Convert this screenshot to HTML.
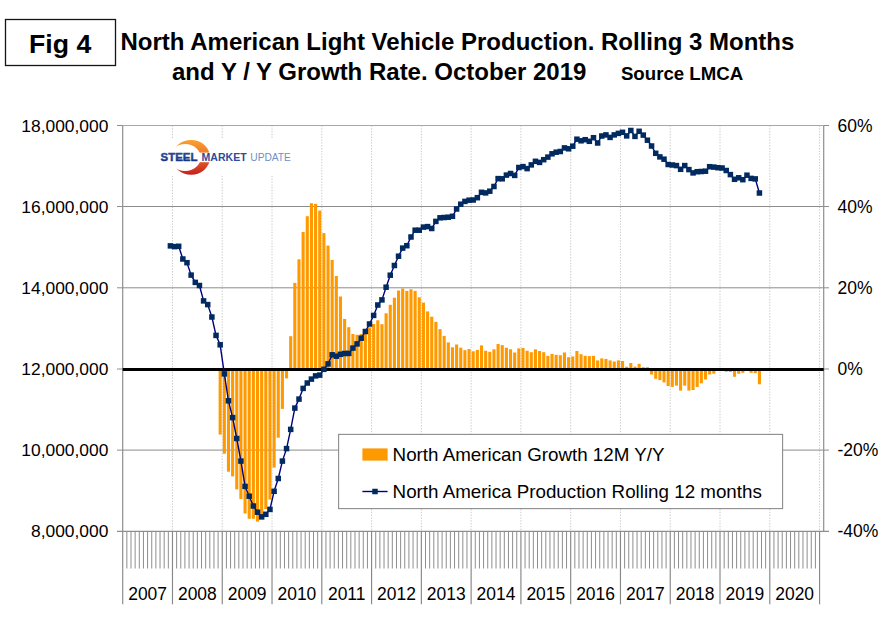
<!DOCTYPE html>
<html><head><meta charset="utf-8"><title>Fig 4</title>
<style>html,body{margin:0;padding:0;background:#fff}svg{display:block}text{font-family:"Liberation Sans",sans-serif}</style></head><body>
<svg width="886" height="622" viewBox="0 0 886 622">
<defs><linearGradient id="cg" x1="0" y1="0" x2="0" y2="1"><stop offset="0" stop-color="#f9a52e"/><stop offset="0.45" stop-color="#f0702a"/><stop offset="1" stop-color="#c01a1c"/></linearGradient>
<linearGradient id="tg" x1="0" y1="0" x2="0" y2="1"><stop offset="0" stop-color="#2a56aa"/><stop offset="1" stop-color="#122a74"/></linearGradient>
<mask id="cres" maskUnits="userSpaceOnUse" x="170" y="138" width="44" height="40"><ellipse cx="191.1" cy="157.4" rx="18.9" ry="17.4" fill="#fff"/><ellipse cx="185.1" cy="157.5" rx="15.6" ry="13.4" fill="#000"/><rect x="170" y="152.6" width="44" height="9.6" fill="#000"/></mask></defs>
<rect width="886" height="622" fill="#fff"/>
<rect x="5.5" y="19.5" width="110" height="46" fill="#fff" stroke="#151515" stroke-width="1.3"/>
<text x="29" y="52.7" font-size="26.67" font-weight="bold" fill="#000">Fig 4</text>
<text x="120.5" y="50.3" font-size="24" font-weight="bold" fill="#000">North American Light Vehicle Production. Rolling 3 Months</text>
<text x="172" y="80.4" font-size="24" font-weight="bold" fill="#000">and Y / Y Growth Rate. October 2019</text>
<text x="620.9" y="80.4" font-size="18.67" font-weight="bold" fill="#000">Source LMCA</text>
<line x1="172.48" y1="125.5" x2="172.48" y2="531.3" stroke="#c2c2c2" stroke-width="0.9" stroke-dasharray="1.3 1.5"/>
<line x1="222.25" y1="125.5" x2="222.25" y2="531.3" stroke="#c2c2c2" stroke-width="0.9" stroke-dasharray="1.3 1.5"/>
<line x1="272.03" y1="125.5" x2="272.03" y2="531.3" stroke="#c2c2c2" stroke-width="0.9" stroke-dasharray="1.3 1.5"/>
<line x1="321.80" y1="125.5" x2="321.80" y2="531.3" stroke="#c2c2c2" stroke-width="0.9" stroke-dasharray="1.3 1.5"/>
<line x1="371.58" y1="125.5" x2="371.58" y2="531.3" stroke="#c2c2c2" stroke-width="0.9" stroke-dasharray="1.3 1.5"/>
<line x1="421.36" y1="125.5" x2="421.36" y2="531.3" stroke="#c2c2c2" stroke-width="0.9" stroke-dasharray="1.3 1.5"/>
<line x1="471.13" y1="125.5" x2="471.13" y2="531.3" stroke="#c2c2c2" stroke-width="0.9" stroke-dasharray="1.3 1.5"/>
<line x1="520.91" y1="125.5" x2="520.91" y2="531.3" stroke="#c2c2c2" stroke-width="0.9" stroke-dasharray="1.3 1.5"/>
<line x1="570.68" y1="125.5" x2="570.68" y2="531.3" stroke="#c2c2c2" stroke-width="0.9" stroke-dasharray="1.3 1.5"/>
<line x1="620.46" y1="125.5" x2="620.46" y2="531.3" stroke="#c2c2c2" stroke-width="0.9" stroke-dasharray="1.3 1.5"/>
<line x1="670.24" y1="125.5" x2="670.24" y2="531.3" stroke="#c2c2c2" stroke-width="0.9" stroke-dasharray="1.3 1.5"/>
<line x1="720.01" y1="125.5" x2="720.01" y2="531.3" stroke="#c2c2c2" stroke-width="0.9" stroke-dasharray="1.3 1.5"/>
<line x1="769.79" y1="125.5" x2="769.79" y2="531.3" stroke="#c2c2c2" stroke-width="0.9" stroke-dasharray="1.3 1.5"/>
<line x1="819.56" y1="125.5" x2="819.56" y2="531.3" stroke="#c2c2c2" stroke-width="0.9" stroke-dasharray="1.3 1.5"/>
<line x1="122.7" y1="125.5" x2="823.7" y2="125.5" stroke="#a8a8a8" stroke-width="1"/>
<line x1="122.7" y1="206.5" x2="823.7" y2="206.5" stroke="#8c8c8c" stroke-width="1"/>
<line x1="122.7" y1="287.8" x2="823.7" y2="287.8" stroke="#8c8c8c" stroke-width="1"/>
<line x1="122.7" y1="369.0" x2="823.7" y2="369.0" stroke="#8c8c8c" stroke-width="1"/>
<line x1="122.7" y1="450.1" x2="823.7" y2="450.1" stroke="#8c8c8c" stroke-width="1"/>
<rect x="218.63" y="369.60" width="3.1" height="64.90" fill="#ff9900"/>
<rect x="222.78" y="369.60" width="3.1" height="84.10" fill="#ff9900"/>
<rect x="226.92" y="369.60" width="3.1" height="102.10" fill="#ff9900"/>
<rect x="231.07" y="369.60" width="3.1" height="106.80" fill="#ff9900"/>
<rect x="235.22" y="369.60" width="3.1" height="119.80" fill="#ff9900"/>
<rect x="239.37" y="369.60" width="3.1" height="129.40" fill="#ff9900"/>
<rect x="243.52" y="369.60" width="3.1" height="143.90" fill="#ff9900"/>
<rect x="247.66" y="369.60" width="3.1" height="149.20" fill="#ff9900"/>
<rect x="251.81" y="369.60" width="3.1" height="149.20" fill="#ff9900"/>
<rect x="255.96" y="369.60" width="3.1" height="152.00" fill="#ff9900"/>
<rect x="260.11" y="369.60" width="3.1" height="148.60" fill="#ff9900"/>
<rect x="264.26" y="369.60" width="3.1" height="139.40" fill="#ff9900"/>
<rect x="268.40" y="369.60" width="3.1" height="130.00" fill="#ff9900"/>
<rect x="272.55" y="369.60" width="3.1" height="98.00" fill="#ff9900"/>
<rect x="276.70" y="369.60" width="3.1" height="68.10" fill="#ff9900"/>
<rect x="280.85" y="369.60" width="3.1" height="39.30" fill="#ff9900"/>
<rect x="285.00" y="369.60" width="3.1" height="8.80" fill="#ff9900"/>
<rect x="289.14" y="336.20" width="3.1" height="33.40" fill="#ff9900"/>
<rect x="293.29" y="282.90" width="3.1" height="86.70" fill="#ff9900"/>
<rect x="297.44" y="259.30" width="3.1" height="110.30" fill="#ff9900"/>
<rect x="301.59" y="232.00" width="3.1" height="137.60" fill="#ff9900"/>
<rect x="305.74" y="216.20" width="3.1" height="153.40" fill="#ff9900"/>
<rect x="309.88" y="203.20" width="3.1" height="166.40" fill="#ff9900"/>
<rect x="314.03" y="203.80" width="3.1" height="165.80" fill="#ff9900"/>
<rect x="318.18" y="210.60" width="3.1" height="159.00" fill="#ff9900"/>
<rect x="322.33" y="233.10" width="3.1" height="136.50" fill="#ff9900"/>
<rect x="326.48" y="245.60" width="3.1" height="124.00" fill="#ff9900"/>
<rect x="330.62" y="259.90" width="3.1" height="109.70" fill="#ff9900"/>
<rect x="334.77" y="276.00" width="3.1" height="93.60" fill="#ff9900"/>
<rect x="338.92" y="296.50" width="3.1" height="73.10" fill="#ff9900"/>
<rect x="343.07" y="318.90" width="3.1" height="50.70" fill="#ff9900"/>
<rect x="347.22" y="327.20" width="3.1" height="42.40" fill="#ff9900"/>
<rect x="351.36" y="334.00" width="3.1" height="35.60" fill="#ff9900"/>
<rect x="355.51" y="334.80" width="3.1" height="34.80" fill="#ff9900"/>
<rect x="359.66" y="334.00" width="3.1" height="35.60" fill="#ff9900"/>
<rect x="363.81" y="330.50" width="3.1" height="39.10" fill="#ff9900"/>
<rect x="367.96" y="327.40" width="3.1" height="42.20" fill="#ff9900"/>
<rect x="372.10" y="324.00" width="3.1" height="45.60" fill="#ff9900"/>
<rect x="376.25" y="320.30" width="3.1" height="49.30" fill="#ff9900"/>
<rect x="380.40" y="324.20" width="3.1" height="45.40" fill="#ff9900"/>
<rect x="384.55" y="313.30" width="3.1" height="56.30" fill="#ff9900"/>
<rect x="388.70" y="304.80" width="3.1" height="64.80" fill="#ff9900"/>
<rect x="392.84" y="297.70" width="3.1" height="71.90" fill="#ff9900"/>
<rect x="396.99" y="290.50" width="3.1" height="79.10" fill="#ff9900"/>
<rect x="401.14" y="288.50" width="3.1" height="81.10" fill="#ff9900"/>
<rect x="405.29" y="290.90" width="3.1" height="78.70" fill="#ff9900"/>
<rect x="409.44" y="289.30" width="3.1" height="80.30" fill="#ff9900"/>
<rect x="413.58" y="290.90" width="3.1" height="78.70" fill="#ff9900"/>
<rect x="417.73" y="297.30" width="3.1" height="72.30" fill="#ff9900"/>
<rect x="421.88" y="302.60" width="3.1" height="67.00" fill="#ff9900"/>
<rect x="426.03" y="311.40" width="3.1" height="58.20" fill="#ff9900"/>
<rect x="430.18" y="316.70" width="3.1" height="52.90" fill="#ff9900"/>
<rect x="434.32" y="321.80" width="3.1" height="47.80" fill="#ff9900"/>
<rect x="438.47" y="329.10" width="3.1" height="40.50" fill="#ff9900"/>
<rect x="442.62" y="335.90" width="3.1" height="33.70" fill="#ff9900"/>
<rect x="446.77" y="342.40" width="3.1" height="27.20" fill="#ff9900"/>
<rect x="450.92" y="347.30" width="3.1" height="22.30" fill="#ff9900"/>
<rect x="455.06" y="344.50" width="3.1" height="25.10" fill="#ff9900"/>
<rect x="459.21" y="347.70" width="3.1" height="21.90" fill="#ff9900"/>
<rect x="463.36" y="350.20" width="3.1" height="19.40" fill="#ff9900"/>
<rect x="467.51" y="349.00" width="3.1" height="20.60" fill="#ff9900"/>
<rect x="471.66" y="351.30" width="3.1" height="18.30" fill="#ff9900"/>
<rect x="475.80" y="349.90" width="3.1" height="19.70" fill="#ff9900"/>
<rect x="479.95" y="345.40" width="3.1" height="24.20" fill="#ff9900"/>
<rect x="484.10" y="350.80" width="3.1" height="18.80" fill="#ff9900"/>
<rect x="488.25" y="351.80" width="3.1" height="17.80" fill="#ff9900"/>
<rect x="492.40" y="349.30" width="3.1" height="20.30" fill="#ff9900"/>
<rect x="496.54" y="344.00" width="3.1" height="25.60" fill="#ff9900"/>
<rect x="500.69" y="345.10" width="3.1" height="24.50" fill="#ff9900"/>
<rect x="504.84" y="347.70" width="3.1" height="21.90" fill="#ff9900"/>
<rect x="508.99" y="349.30" width="3.1" height="20.30" fill="#ff9900"/>
<rect x="513.14" y="352.50" width="3.1" height="17.10" fill="#ff9900"/>
<rect x="517.28" y="348.40" width="3.1" height="21.20" fill="#ff9900"/>
<rect x="521.43" y="348.00" width="3.1" height="21.60" fill="#ff9900"/>
<rect x="525.58" y="350.80" width="3.1" height="18.80" fill="#ff9900"/>
<rect x="529.73" y="352.20" width="3.1" height="17.40" fill="#ff9900"/>
<rect x="533.88" y="349.30" width="3.1" height="20.30" fill="#ff9900"/>
<rect x="538.02" y="351.00" width="3.1" height="18.60" fill="#ff9900"/>
<rect x="542.17" y="352.20" width="3.1" height="17.40" fill="#ff9900"/>
<rect x="546.32" y="355.90" width="3.1" height="13.70" fill="#ff9900"/>
<rect x="550.47" y="353.90" width="3.1" height="15.70" fill="#ff9900"/>
<rect x="554.62" y="354.80" width="3.1" height="14.80" fill="#ff9900"/>
<rect x="558.76" y="355.20" width="3.1" height="14.40" fill="#ff9900"/>
<rect x="562.91" y="352.50" width="3.1" height="17.10" fill="#ff9900"/>
<rect x="567.06" y="357.20" width="3.1" height="12.40" fill="#ff9900"/>
<rect x="571.21" y="356.50" width="3.1" height="13.10" fill="#ff9900"/>
<rect x="575.36" y="351.00" width="3.1" height="18.60" fill="#ff9900"/>
<rect x="579.50" y="354.20" width="3.1" height="15.40" fill="#ff9900"/>
<rect x="583.65" y="355.80" width="3.1" height="13.80" fill="#ff9900"/>
<rect x="587.80" y="356.10" width="3.1" height="13.50" fill="#ff9900"/>
<rect x="591.95" y="355.80" width="3.1" height="13.80" fill="#ff9900"/>
<rect x="596.10" y="360.40" width="3.1" height="9.20" fill="#ff9900"/>
<rect x="600.24" y="358.40" width="3.1" height="11.20" fill="#ff9900"/>
<rect x="604.39" y="358.90" width="3.1" height="10.70" fill="#ff9900"/>
<rect x="608.54" y="360.40" width="3.1" height="9.20" fill="#ff9900"/>
<rect x="612.69" y="361.50" width="3.1" height="8.10" fill="#ff9900"/>
<rect x="616.84" y="360.40" width="3.1" height="9.20" fill="#ff9900"/>
<rect x="620.98" y="361.00" width="3.1" height="8.60" fill="#ff9900"/>
<rect x="625.13" y="366.70" width="3.1" height="2.90" fill="#ff9900"/>
<rect x="629.28" y="363.00" width="3.1" height="6.60" fill="#ff9900"/>
<rect x="633.43" y="366.60" width="3.1" height="3.00" fill="#ff9900"/>
<rect x="637.58" y="363.80" width="3.1" height="5.80" fill="#ff9900"/>
<rect x="641.72" y="367.20" width="3.1" height="2.40" fill="#ff9900"/>
<rect x="645.87" y="367.20" width="3.1" height="2.40" fill="#ff9900"/>
<rect x="650.02" y="369.60" width="3.1" height="4.90" fill="#ff9900"/>
<rect x="654.17" y="369.60" width="3.1" height="9.20" fill="#ff9900"/>
<rect x="658.32" y="369.60" width="3.1" height="10.50" fill="#ff9900"/>
<rect x="662.46" y="369.60" width="3.1" height="12.80" fill="#ff9900"/>
<rect x="666.61" y="369.60" width="3.1" height="16.40" fill="#ff9900"/>
<rect x="670.76" y="369.60" width="3.1" height="17.30" fill="#ff9900"/>
<rect x="674.91" y="369.60" width="3.1" height="16.00" fill="#ff9900"/>
<rect x="679.06" y="369.60" width="3.1" height="21.00" fill="#ff9900"/>
<rect x="683.20" y="369.60" width="3.1" height="16.00" fill="#ff9900"/>
<rect x="687.35" y="369.60" width="3.1" height="21.00" fill="#ff9900"/>
<rect x="691.50" y="369.60" width="3.1" height="20.40" fill="#ff9900"/>
<rect x="695.65" y="369.60" width="3.1" height="17.30" fill="#ff9900"/>
<rect x="699.80" y="369.60" width="3.1" height="13.70" fill="#ff9900"/>
<rect x="703.94" y="369.60" width="3.1" height="9.80" fill="#ff9900"/>
<rect x="708.09" y="369.60" width="3.1" height="4.90" fill="#ff9900"/>
<rect x="712.24" y="369.60" width="3.1" height="4.10" fill="#ff9900"/>
<rect x="724.68" y="369.60" width="3.1" height="2.10" fill="#ff9900"/>
<rect x="728.83" y="369.60" width="3.1" height="2.40" fill="#ff9900"/>
<rect x="732.98" y="369.60" width="3.1" height="7.20" fill="#ff9900"/>
<rect x="737.13" y="369.60" width="3.1" height="4.10" fill="#ff9900"/>
<rect x="741.28" y="369.60" width="3.1" height="3.20" fill="#ff9900"/>
<rect x="749.57" y="369.60" width="3.1" height="3.20" fill="#ff9900"/>
<rect x="753.72" y="369.60" width="3.1" height="3.50" fill="#ff9900"/>
<rect x="757.87" y="369.60" width="3.1" height="14.70" fill="#ff9900"/>
<line x1="122.7" y1="125.5" x2="122.7" y2="604.3" stroke="#8e8e8e" stroke-width="1.2"/>
<line x1="823.7" y1="125.5" x2="823.7" y2="531.3" stroke="#8e8e8e" stroke-width="1.2"/>
<line x1="117" y1="531.3" x2="829" y2="531.3" stroke="#8e8e8e" stroke-width="1.2"/>
<line x1="117" y1="125.5" x2="122.7" y2="125.5" stroke="#8e8e8e" stroke-width="1"/>
<line x1="823.7" y1="125.5" x2="829" y2="125.5" stroke="#8e8e8e" stroke-width="1"/>
<line x1="117" y1="206.5" x2="122.7" y2="206.5" stroke="#8e8e8e" stroke-width="1"/>
<line x1="823.7" y1="206.5" x2="829" y2="206.5" stroke="#8e8e8e" stroke-width="1"/>
<line x1="117" y1="287.8" x2="122.7" y2="287.8" stroke="#8e8e8e" stroke-width="1"/>
<line x1="823.7" y1="287.8" x2="829" y2="287.8" stroke="#8e8e8e" stroke-width="1"/>
<line x1="117" y1="369.0" x2="122.7" y2="369.0" stroke="#8e8e8e" stroke-width="1"/>
<line x1="823.7" y1="369.0" x2="829" y2="369.0" stroke="#8e8e8e" stroke-width="1"/>
<line x1="117" y1="450.1" x2="122.7" y2="450.1" stroke="#8e8e8e" stroke-width="1"/>
<line x1="823.7" y1="450.1" x2="829" y2="450.1" stroke="#8e8e8e" stroke-width="1"/>
<line x1="126.85" y1="531.3" x2="126.85" y2="568.5" stroke="#8e8e8e" stroke-width="1"/>
<line x1="131.00" y1="531.3" x2="131.00" y2="568.5" stroke="#8e8e8e" stroke-width="1"/>
<line x1="135.14" y1="531.3" x2="135.14" y2="568.5" stroke="#8e8e8e" stroke-width="1"/>
<line x1="139.29" y1="531.3" x2="139.29" y2="568.5" stroke="#8e8e8e" stroke-width="1"/>
<line x1="143.44" y1="531.3" x2="143.44" y2="568.5" stroke="#8e8e8e" stroke-width="1"/>
<line x1="147.59" y1="531.3" x2="147.59" y2="568.5" stroke="#8e8e8e" stroke-width="1"/>
<line x1="151.74" y1="531.3" x2="151.74" y2="568.5" stroke="#8e8e8e" stroke-width="1"/>
<line x1="155.88" y1="531.3" x2="155.88" y2="568.5" stroke="#8e8e8e" stroke-width="1"/>
<line x1="160.03" y1="531.3" x2="160.03" y2="568.5" stroke="#8e8e8e" stroke-width="1"/>
<line x1="164.18" y1="531.3" x2="164.18" y2="568.5" stroke="#8e8e8e" stroke-width="1"/>
<line x1="168.33" y1="531.3" x2="168.33" y2="568.5" stroke="#8e8e8e" stroke-width="1"/>
<line x1="172.48" y1="531.3" x2="172.48" y2="604.3" stroke="#878787" stroke-width="1.15"/>
<line x1="176.62" y1="531.3" x2="176.62" y2="568.5" stroke="#8e8e8e" stroke-width="1"/>
<line x1="180.77" y1="531.3" x2="180.77" y2="568.5" stroke="#8e8e8e" stroke-width="1"/>
<line x1="184.92" y1="531.3" x2="184.92" y2="568.5" stroke="#8e8e8e" stroke-width="1"/>
<line x1="189.07" y1="531.3" x2="189.07" y2="568.5" stroke="#8e8e8e" stroke-width="1"/>
<line x1="193.22" y1="531.3" x2="193.22" y2="568.5" stroke="#8e8e8e" stroke-width="1"/>
<line x1="197.36" y1="531.3" x2="197.36" y2="568.5" stroke="#8e8e8e" stroke-width="1"/>
<line x1="201.51" y1="531.3" x2="201.51" y2="568.5" stroke="#8e8e8e" stroke-width="1"/>
<line x1="205.66" y1="531.3" x2="205.66" y2="568.5" stroke="#8e8e8e" stroke-width="1"/>
<line x1="209.81" y1="531.3" x2="209.81" y2="568.5" stroke="#8e8e8e" stroke-width="1"/>
<line x1="213.96" y1="531.3" x2="213.96" y2="568.5" stroke="#8e8e8e" stroke-width="1"/>
<line x1="218.10" y1="531.3" x2="218.10" y2="568.5" stroke="#8e8e8e" stroke-width="1"/>
<line x1="222.25" y1="531.3" x2="222.25" y2="604.3" stroke="#878787" stroke-width="1.15"/>
<line x1="226.40" y1="531.3" x2="226.40" y2="568.5" stroke="#8e8e8e" stroke-width="1"/>
<line x1="230.55" y1="531.3" x2="230.55" y2="568.5" stroke="#8e8e8e" stroke-width="1"/>
<line x1="234.70" y1="531.3" x2="234.70" y2="568.5" stroke="#8e8e8e" stroke-width="1"/>
<line x1="238.84" y1="531.3" x2="238.84" y2="568.5" stroke="#8e8e8e" stroke-width="1"/>
<line x1="242.99" y1="531.3" x2="242.99" y2="568.5" stroke="#8e8e8e" stroke-width="1"/>
<line x1="247.14" y1="531.3" x2="247.14" y2="568.5" stroke="#8e8e8e" stroke-width="1"/>
<line x1="251.29" y1="531.3" x2="251.29" y2="568.5" stroke="#8e8e8e" stroke-width="1"/>
<line x1="255.44" y1="531.3" x2="255.44" y2="568.5" stroke="#8e8e8e" stroke-width="1"/>
<line x1="259.58" y1="531.3" x2="259.58" y2="568.5" stroke="#8e8e8e" stroke-width="1"/>
<line x1="263.73" y1="531.3" x2="263.73" y2="568.5" stroke="#8e8e8e" stroke-width="1"/>
<line x1="267.88" y1="531.3" x2="267.88" y2="568.5" stroke="#8e8e8e" stroke-width="1"/>
<line x1="272.03" y1="531.3" x2="272.03" y2="604.3" stroke="#878787" stroke-width="1.15"/>
<line x1="276.18" y1="531.3" x2="276.18" y2="568.5" stroke="#8e8e8e" stroke-width="1"/>
<line x1="280.32" y1="531.3" x2="280.32" y2="568.5" stroke="#8e8e8e" stroke-width="1"/>
<line x1="284.47" y1="531.3" x2="284.47" y2="568.5" stroke="#8e8e8e" stroke-width="1"/>
<line x1="288.62" y1="531.3" x2="288.62" y2="568.5" stroke="#8e8e8e" stroke-width="1"/>
<line x1="292.77" y1="531.3" x2="292.77" y2="568.5" stroke="#8e8e8e" stroke-width="1"/>
<line x1="296.92" y1="531.3" x2="296.92" y2="568.5" stroke="#8e8e8e" stroke-width="1"/>
<line x1="301.06" y1="531.3" x2="301.06" y2="568.5" stroke="#8e8e8e" stroke-width="1"/>
<line x1="305.21" y1="531.3" x2="305.21" y2="568.5" stroke="#8e8e8e" stroke-width="1"/>
<line x1="309.36" y1="531.3" x2="309.36" y2="568.5" stroke="#8e8e8e" stroke-width="1"/>
<line x1="313.51" y1="531.3" x2="313.51" y2="568.5" stroke="#8e8e8e" stroke-width="1"/>
<line x1="317.66" y1="531.3" x2="317.66" y2="568.5" stroke="#8e8e8e" stroke-width="1"/>
<line x1="321.80" y1="531.3" x2="321.80" y2="604.3" stroke="#878787" stroke-width="1.15"/>
<line x1="325.95" y1="531.3" x2="325.95" y2="568.5" stroke="#8e8e8e" stroke-width="1"/>
<line x1="330.10" y1="531.3" x2="330.10" y2="568.5" stroke="#8e8e8e" stroke-width="1"/>
<line x1="334.25" y1="531.3" x2="334.25" y2="568.5" stroke="#8e8e8e" stroke-width="1"/>
<line x1="338.40" y1="531.3" x2="338.40" y2="568.5" stroke="#8e8e8e" stroke-width="1"/>
<line x1="342.54" y1="531.3" x2="342.54" y2="568.5" stroke="#8e8e8e" stroke-width="1"/>
<line x1="346.69" y1="531.3" x2="346.69" y2="568.5" stroke="#8e8e8e" stroke-width="1"/>
<line x1="350.84" y1="531.3" x2="350.84" y2="568.5" stroke="#8e8e8e" stroke-width="1"/>
<line x1="354.99" y1="531.3" x2="354.99" y2="568.5" stroke="#8e8e8e" stroke-width="1"/>
<line x1="359.14" y1="531.3" x2="359.14" y2="568.5" stroke="#8e8e8e" stroke-width="1"/>
<line x1="363.28" y1="531.3" x2="363.28" y2="568.5" stroke="#8e8e8e" stroke-width="1"/>
<line x1="367.43" y1="531.3" x2="367.43" y2="568.5" stroke="#8e8e8e" stroke-width="1"/>
<line x1="371.58" y1="531.3" x2="371.58" y2="604.3" stroke="#878787" stroke-width="1.15"/>
<line x1="375.73" y1="531.3" x2="375.73" y2="568.5" stroke="#8e8e8e" stroke-width="1"/>
<line x1="379.88" y1="531.3" x2="379.88" y2="568.5" stroke="#8e8e8e" stroke-width="1"/>
<line x1="384.02" y1="531.3" x2="384.02" y2="568.5" stroke="#8e8e8e" stroke-width="1"/>
<line x1="388.17" y1="531.3" x2="388.17" y2="568.5" stroke="#8e8e8e" stroke-width="1"/>
<line x1="392.32" y1="531.3" x2="392.32" y2="568.5" stroke="#8e8e8e" stroke-width="1"/>
<line x1="396.47" y1="531.3" x2="396.47" y2="568.5" stroke="#8e8e8e" stroke-width="1"/>
<line x1="400.62" y1="531.3" x2="400.62" y2="568.5" stroke="#8e8e8e" stroke-width="1"/>
<line x1="404.76" y1="531.3" x2="404.76" y2="568.5" stroke="#8e8e8e" stroke-width="1"/>
<line x1="408.91" y1="531.3" x2="408.91" y2="568.5" stroke="#8e8e8e" stroke-width="1"/>
<line x1="413.06" y1="531.3" x2="413.06" y2="568.5" stroke="#8e8e8e" stroke-width="1"/>
<line x1="417.21" y1="531.3" x2="417.21" y2="568.5" stroke="#8e8e8e" stroke-width="1"/>
<line x1="421.36" y1="531.3" x2="421.36" y2="604.3" stroke="#878787" stroke-width="1.15"/>
<line x1="425.50" y1="531.3" x2="425.50" y2="568.5" stroke="#8e8e8e" stroke-width="1"/>
<line x1="429.65" y1="531.3" x2="429.65" y2="568.5" stroke="#8e8e8e" stroke-width="1"/>
<line x1="433.80" y1="531.3" x2="433.80" y2="568.5" stroke="#8e8e8e" stroke-width="1"/>
<line x1="437.95" y1="531.3" x2="437.95" y2="568.5" stroke="#8e8e8e" stroke-width="1"/>
<line x1="442.10" y1="531.3" x2="442.10" y2="568.5" stroke="#8e8e8e" stroke-width="1"/>
<line x1="446.24" y1="531.3" x2="446.24" y2="568.5" stroke="#8e8e8e" stroke-width="1"/>
<line x1="450.39" y1="531.3" x2="450.39" y2="568.5" stroke="#8e8e8e" stroke-width="1"/>
<line x1="454.54" y1="531.3" x2="454.54" y2="568.5" stroke="#8e8e8e" stroke-width="1"/>
<line x1="458.69" y1="531.3" x2="458.69" y2="568.5" stroke="#8e8e8e" stroke-width="1"/>
<line x1="462.84" y1="531.3" x2="462.84" y2="568.5" stroke="#8e8e8e" stroke-width="1"/>
<line x1="466.98" y1="531.3" x2="466.98" y2="568.5" stroke="#8e8e8e" stroke-width="1"/>
<line x1="471.13" y1="531.3" x2="471.13" y2="604.3" stroke="#878787" stroke-width="1.15"/>
<line x1="475.28" y1="531.3" x2="475.28" y2="568.5" stroke="#8e8e8e" stroke-width="1"/>
<line x1="479.43" y1="531.3" x2="479.43" y2="568.5" stroke="#8e8e8e" stroke-width="1"/>
<line x1="483.58" y1="531.3" x2="483.58" y2="568.5" stroke="#8e8e8e" stroke-width="1"/>
<line x1="487.72" y1="531.3" x2="487.72" y2="568.5" stroke="#8e8e8e" stroke-width="1"/>
<line x1="491.87" y1="531.3" x2="491.87" y2="568.5" stroke="#8e8e8e" stroke-width="1"/>
<line x1="496.02" y1="531.3" x2="496.02" y2="568.5" stroke="#8e8e8e" stroke-width="1"/>
<line x1="500.17" y1="531.3" x2="500.17" y2="568.5" stroke="#8e8e8e" stroke-width="1"/>
<line x1="504.32" y1="531.3" x2="504.32" y2="568.5" stroke="#8e8e8e" stroke-width="1"/>
<line x1="508.46" y1="531.3" x2="508.46" y2="568.5" stroke="#8e8e8e" stroke-width="1"/>
<line x1="512.61" y1="531.3" x2="512.61" y2="568.5" stroke="#8e8e8e" stroke-width="1"/>
<line x1="516.76" y1="531.3" x2="516.76" y2="568.5" stroke="#8e8e8e" stroke-width="1"/>
<line x1="520.91" y1="531.3" x2="520.91" y2="604.3" stroke="#878787" stroke-width="1.15"/>
<line x1="525.06" y1="531.3" x2="525.06" y2="568.5" stroke="#8e8e8e" stroke-width="1"/>
<line x1="529.20" y1="531.3" x2="529.20" y2="568.5" stroke="#8e8e8e" stroke-width="1"/>
<line x1="533.35" y1="531.3" x2="533.35" y2="568.5" stroke="#8e8e8e" stroke-width="1"/>
<line x1="537.50" y1="531.3" x2="537.50" y2="568.5" stroke="#8e8e8e" stroke-width="1"/>
<line x1="541.65" y1="531.3" x2="541.65" y2="568.5" stroke="#8e8e8e" stroke-width="1"/>
<line x1="545.80" y1="531.3" x2="545.80" y2="568.5" stroke="#8e8e8e" stroke-width="1"/>
<line x1="549.94" y1="531.3" x2="549.94" y2="568.5" stroke="#8e8e8e" stroke-width="1"/>
<line x1="554.09" y1="531.3" x2="554.09" y2="568.5" stroke="#8e8e8e" stroke-width="1"/>
<line x1="558.24" y1="531.3" x2="558.24" y2="568.5" stroke="#8e8e8e" stroke-width="1"/>
<line x1="562.39" y1="531.3" x2="562.39" y2="568.5" stroke="#8e8e8e" stroke-width="1"/>
<line x1="566.54" y1="531.3" x2="566.54" y2="568.5" stroke="#8e8e8e" stroke-width="1"/>
<line x1="570.68" y1="531.3" x2="570.68" y2="604.3" stroke="#878787" stroke-width="1.15"/>
<line x1="574.83" y1="531.3" x2="574.83" y2="568.5" stroke="#8e8e8e" stroke-width="1"/>
<line x1="578.98" y1="531.3" x2="578.98" y2="568.5" stroke="#8e8e8e" stroke-width="1"/>
<line x1="583.13" y1="531.3" x2="583.13" y2="568.5" stroke="#8e8e8e" stroke-width="1"/>
<line x1="587.28" y1="531.3" x2="587.28" y2="568.5" stroke="#8e8e8e" stroke-width="1"/>
<line x1="591.42" y1="531.3" x2="591.42" y2="568.5" stroke="#8e8e8e" stroke-width="1"/>
<line x1="595.57" y1="531.3" x2="595.57" y2="568.5" stroke="#8e8e8e" stroke-width="1"/>
<line x1="599.72" y1="531.3" x2="599.72" y2="568.5" stroke="#8e8e8e" stroke-width="1"/>
<line x1="603.87" y1="531.3" x2="603.87" y2="568.5" stroke="#8e8e8e" stroke-width="1"/>
<line x1="608.02" y1="531.3" x2="608.02" y2="568.5" stroke="#8e8e8e" stroke-width="1"/>
<line x1="612.16" y1="531.3" x2="612.16" y2="568.5" stroke="#8e8e8e" stroke-width="1"/>
<line x1="616.31" y1="531.3" x2="616.31" y2="568.5" stroke="#8e8e8e" stroke-width="1"/>
<line x1="620.46" y1="531.3" x2="620.46" y2="604.3" stroke="#878787" stroke-width="1.15"/>
<line x1="624.61" y1="531.3" x2="624.61" y2="568.5" stroke="#8e8e8e" stroke-width="1"/>
<line x1="628.76" y1="531.3" x2="628.76" y2="568.5" stroke="#8e8e8e" stroke-width="1"/>
<line x1="632.90" y1="531.3" x2="632.90" y2="568.5" stroke="#8e8e8e" stroke-width="1"/>
<line x1="637.05" y1="531.3" x2="637.05" y2="568.5" stroke="#8e8e8e" stroke-width="1"/>
<line x1="641.20" y1="531.3" x2="641.20" y2="568.5" stroke="#8e8e8e" stroke-width="1"/>
<line x1="645.35" y1="531.3" x2="645.35" y2="568.5" stroke="#8e8e8e" stroke-width="1"/>
<line x1="649.50" y1="531.3" x2="649.50" y2="568.5" stroke="#8e8e8e" stroke-width="1"/>
<line x1="653.64" y1="531.3" x2="653.64" y2="568.5" stroke="#8e8e8e" stroke-width="1"/>
<line x1="657.79" y1="531.3" x2="657.79" y2="568.5" stroke="#8e8e8e" stroke-width="1"/>
<line x1="661.94" y1="531.3" x2="661.94" y2="568.5" stroke="#8e8e8e" stroke-width="1"/>
<line x1="666.09" y1="531.3" x2="666.09" y2="568.5" stroke="#8e8e8e" stroke-width="1"/>
<line x1="670.24" y1="531.3" x2="670.24" y2="604.3" stroke="#878787" stroke-width="1.15"/>
<line x1="674.38" y1="531.3" x2="674.38" y2="568.5" stroke="#8e8e8e" stroke-width="1"/>
<line x1="678.53" y1="531.3" x2="678.53" y2="568.5" stroke="#8e8e8e" stroke-width="1"/>
<line x1="682.68" y1="531.3" x2="682.68" y2="568.5" stroke="#8e8e8e" stroke-width="1"/>
<line x1="686.83" y1="531.3" x2="686.83" y2="568.5" stroke="#8e8e8e" stroke-width="1"/>
<line x1="690.98" y1="531.3" x2="690.98" y2="568.5" stroke="#8e8e8e" stroke-width="1"/>
<line x1="695.12" y1="531.3" x2="695.12" y2="568.5" stroke="#8e8e8e" stroke-width="1"/>
<line x1="699.27" y1="531.3" x2="699.27" y2="568.5" stroke="#8e8e8e" stroke-width="1"/>
<line x1="703.42" y1="531.3" x2="703.42" y2="568.5" stroke="#8e8e8e" stroke-width="1"/>
<line x1="707.57" y1="531.3" x2="707.57" y2="568.5" stroke="#8e8e8e" stroke-width="1"/>
<line x1="711.72" y1="531.3" x2="711.72" y2="568.5" stroke="#8e8e8e" stroke-width="1"/>
<line x1="715.86" y1="531.3" x2="715.86" y2="568.5" stroke="#8e8e8e" stroke-width="1"/>
<line x1="720.01" y1="531.3" x2="720.01" y2="604.3" stroke="#878787" stroke-width="1.15"/>
<line x1="724.16" y1="531.3" x2="724.16" y2="568.5" stroke="#8e8e8e" stroke-width="1"/>
<line x1="728.31" y1="531.3" x2="728.31" y2="568.5" stroke="#8e8e8e" stroke-width="1"/>
<line x1="732.46" y1="531.3" x2="732.46" y2="568.5" stroke="#8e8e8e" stroke-width="1"/>
<line x1="736.60" y1="531.3" x2="736.60" y2="568.5" stroke="#8e8e8e" stroke-width="1"/>
<line x1="740.75" y1="531.3" x2="740.75" y2="568.5" stroke="#8e8e8e" stroke-width="1"/>
<line x1="744.90" y1="531.3" x2="744.90" y2="568.5" stroke="#8e8e8e" stroke-width="1"/>
<line x1="749.05" y1="531.3" x2="749.05" y2="568.5" stroke="#8e8e8e" stroke-width="1"/>
<line x1="753.20" y1="531.3" x2="753.20" y2="568.5" stroke="#8e8e8e" stroke-width="1"/>
<line x1="757.34" y1="531.3" x2="757.34" y2="568.5" stroke="#8e8e8e" stroke-width="1"/>
<line x1="761.49" y1="531.3" x2="761.49" y2="568.5" stroke="#8e8e8e" stroke-width="1"/>
<line x1="765.64" y1="531.3" x2="765.64" y2="568.5" stroke="#8e8e8e" stroke-width="1"/>
<line x1="769.79" y1="531.3" x2="769.79" y2="604.3" stroke="#878787" stroke-width="1.15"/>
<line x1="773.94" y1="531.3" x2="773.94" y2="568.5" stroke="#8e8e8e" stroke-width="1"/>
<line x1="778.08" y1="531.3" x2="778.08" y2="568.5" stroke="#8e8e8e" stroke-width="1"/>
<line x1="782.23" y1="531.3" x2="782.23" y2="568.5" stroke="#8e8e8e" stroke-width="1"/>
<line x1="786.38" y1="531.3" x2="786.38" y2="568.5" stroke="#8e8e8e" stroke-width="1"/>
<line x1="790.53" y1="531.3" x2="790.53" y2="568.5" stroke="#8e8e8e" stroke-width="1"/>
<line x1="794.68" y1="531.3" x2="794.68" y2="568.5" stroke="#8e8e8e" stroke-width="1"/>
<line x1="798.82" y1="531.3" x2="798.82" y2="568.5" stroke="#8e8e8e" stroke-width="1"/>
<line x1="802.97" y1="531.3" x2="802.97" y2="568.5" stroke="#8e8e8e" stroke-width="1"/>
<line x1="807.12" y1="531.3" x2="807.12" y2="568.5" stroke="#8e8e8e" stroke-width="1"/>
<line x1="811.27" y1="531.3" x2="811.27" y2="568.5" stroke="#8e8e8e" stroke-width="1"/>
<line x1="815.42" y1="531.3" x2="815.42" y2="568.5" stroke="#8e8e8e" stroke-width="1"/>
<line x1="819.56" y1="531.3" x2="819.56" y2="604.3" stroke="#878787" stroke-width="1.15"/>
<line x1="122.7" y1="369.6" x2="823.7" y2="369.6" stroke="#000" stroke-width="3"/>
<polyline points="170.40,245.90 174.55,246.60 178.70,246.30 182.85,259.00 186.99,262.70 191.14,275.10 195.29,282.40 199.44,285.50 203.59,300.90 207.73,304.60 211.88,317.00 216.03,335.40 220.18,344.80 224.33,373.90 228.47,400.80 232.62,417.60 236.77,438.50 240.92,461.10 245.07,486.40 249.21,496.20 253.36,506.00 257.51,512.20 261.66,516.90 265.81,514.30 269.95,509.40 274.10,491.30 278.25,478.50 282.40,461.10 286.55,448.60 290.69,429.40 294.84,408.10 298.99,399.10 303.14,388.40 307.29,383.00 311.43,379.10 315.58,375.90 319.73,375.10 323.88,369.30 328.03,363.90 332.17,354.80 336.32,356.20 340.47,354.30 344.62,353.50 348.77,353.40 352.91,348.10 357.06,343.90 361.21,338.20 365.36,331.50 369.51,324.00 373.65,315.40 377.80,305.00 381.95,299.90 386.10,287.20 390.25,275.20 394.39,265.50 398.54,256.20 402.69,248.10 406.84,245.70 410.99,237.00 415.13,230.20 419.28,230.20 423.43,227.10 427.58,226.60 431.73,228.50 435.87,221.40 440.02,217.80 444.17,217.50 448.32,217.20 452.47,216.30 456.61,209.00 460.76,204.20 464.91,201.40 469.06,200.20 473.21,200.00 477.35,197.70 481.50,192.30 485.65,192.90 489.80,191.20 493.95,186.50 498.09,178.60 502.24,178.80 506.39,175.10 510.54,173.50 514.69,175.40 518.83,167.50 522.98,166.60 527.13,168.60 531.28,164.90 535.43,161.30 539.57,162.40 543.72,159.70 547.87,157.10 552.02,153.80 556.17,152.20 560.31,151.50 564.46,147.90 568.61,148.80 572.76,146.20 576.91,139.20 581.05,140.80 585.20,139.70 589.35,141.30 593.50,137.70 597.65,143.00 601.79,136.00 605.94,134.90 610.09,137.40 614.24,134.90 618.39,133.40 622.53,132.30 626.68,135.90 630.83,130.50 634.98,136.40 639.13,131.30 643.27,135.10 647.42,140.20 651.57,146.00 655.72,153.30 659.87,156.90 664.01,159.20 668.16,164.50 672.31,165.00 676.46,165.60 680.61,169.30 684.75,165.60 688.90,169.60 693.05,172.90 697.20,171.70 701.35,171.50 705.49,171.20 709.64,166.70 713.79,167.10 717.94,167.70 722.09,168.00 726.23,170.50 730.38,174.60 734.53,179.30 738.68,177.80 742.83,179.70 746.97,175.20 751.12,178.40 755.27,178.90 759.42,193.00" fill="none" stroke="#000080" stroke-width="1.4" stroke-linejoin="round"/>
<rect x="167.65" y="243.15" width="5.5" height="5.5" fill="#002a60"/>
<rect x="171.80" y="243.85" width="5.5" height="5.5" fill="#002a60"/>
<rect x="175.95" y="243.55" width="5.5" height="5.5" fill="#002a60"/>
<rect x="180.10" y="256.25" width="5.5" height="5.5" fill="#002a60"/>
<rect x="184.24" y="259.95" width="5.5" height="5.5" fill="#002a60"/>
<rect x="188.39" y="272.35" width="5.5" height="5.5" fill="#002a60"/>
<rect x="192.54" y="279.65" width="5.5" height="5.5" fill="#002a60"/>
<rect x="196.69" y="282.75" width="5.5" height="5.5" fill="#002a60"/>
<rect x="200.84" y="298.15" width="5.5" height="5.5" fill="#002a60"/>
<rect x="204.98" y="301.85" width="5.5" height="5.5" fill="#002a60"/>
<rect x="209.13" y="314.25" width="5.5" height="5.5" fill="#002a60"/>
<rect x="213.28" y="332.65" width="5.5" height="5.5" fill="#002a60"/>
<rect x="217.43" y="342.05" width="5.5" height="5.5" fill="#002a60"/>
<rect x="221.58" y="371.15" width="5.5" height="5.5" fill="#002a60"/>
<rect x="225.72" y="398.05" width="5.5" height="5.5" fill="#002a60"/>
<rect x="229.87" y="414.85" width="5.5" height="5.5" fill="#002a60"/>
<rect x="234.02" y="435.75" width="5.5" height="5.5" fill="#002a60"/>
<rect x="238.17" y="458.35" width="5.5" height="5.5" fill="#002a60"/>
<rect x="242.32" y="483.65" width="5.5" height="5.5" fill="#002a60"/>
<rect x="246.46" y="493.45" width="5.5" height="5.5" fill="#002a60"/>
<rect x="250.61" y="503.25" width="5.5" height="5.5" fill="#002a60"/>
<rect x="254.76" y="509.45" width="5.5" height="5.5" fill="#002a60"/>
<rect x="258.91" y="514.15" width="5.5" height="5.5" fill="#002a60"/>
<rect x="263.06" y="511.55" width="5.5" height="5.5" fill="#002a60"/>
<rect x="267.20" y="506.65" width="5.5" height="5.5" fill="#002a60"/>
<rect x="271.35" y="488.55" width="5.5" height="5.5" fill="#002a60"/>
<rect x="275.50" y="475.75" width="5.5" height="5.5" fill="#002a60"/>
<rect x="279.65" y="458.35" width="5.5" height="5.5" fill="#002a60"/>
<rect x="283.80" y="445.85" width="5.5" height="5.5" fill="#002a60"/>
<rect x="287.94" y="426.65" width="5.5" height="5.5" fill="#002a60"/>
<rect x="292.09" y="405.35" width="5.5" height="5.5" fill="#002a60"/>
<rect x="296.24" y="396.35" width="5.5" height="5.5" fill="#002a60"/>
<rect x="300.39" y="385.65" width="5.5" height="5.5" fill="#002a60"/>
<rect x="304.54" y="380.25" width="5.5" height="5.5" fill="#002a60"/>
<rect x="308.68" y="376.35" width="5.5" height="5.5" fill="#002a60"/>
<rect x="312.83" y="373.15" width="5.5" height="5.5" fill="#002a60"/>
<rect x="316.98" y="372.35" width="5.5" height="5.5" fill="#002a60"/>
<rect x="321.13" y="366.55" width="5.5" height="5.5" fill="#002a60"/>
<rect x="325.28" y="361.15" width="5.5" height="5.5" fill="#002a60"/>
<rect x="329.42" y="352.05" width="5.5" height="5.5" fill="#002a60"/>
<rect x="333.57" y="353.45" width="5.5" height="5.5" fill="#002a60"/>
<rect x="337.72" y="351.55" width="5.5" height="5.5" fill="#002a60"/>
<rect x="341.87" y="350.75" width="5.5" height="5.5" fill="#002a60"/>
<rect x="346.02" y="350.65" width="5.5" height="5.5" fill="#002a60"/>
<rect x="350.16" y="345.35" width="5.5" height="5.5" fill="#002a60"/>
<rect x="354.31" y="341.15" width="5.5" height="5.5" fill="#002a60"/>
<rect x="358.46" y="335.45" width="5.5" height="5.5" fill="#002a60"/>
<rect x="362.61" y="328.75" width="5.5" height="5.5" fill="#002a60"/>
<rect x="366.76" y="321.25" width="5.5" height="5.5" fill="#002a60"/>
<rect x="370.90" y="312.65" width="5.5" height="5.5" fill="#002a60"/>
<rect x="375.05" y="302.25" width="5.5" height="5.5" fill="#002a60"/>
<rect x="379.20" y="297.15" width="5.5" height="5.5" fill="#002a60"/>
<rect x="383.35" y="284.45" width="5.5" height="5.5" fill="#002a60"/>
<rect x="387.50" y="272.45" width="5.5" height="5.5" fill="#002a60"/>
<rect x="391.64" y="262.75" width="5.5" height="5.5" fill="#002a60"/>
<rect x="395.79" y="253.45" width="5.5" height="5.5" fill="#002a60"/>
<rect x="399.94" y="245.35" width="5.5" height="5.5" fill="#002a60"/>
<rect x="404.09" y="242.95" width="5.5" height="5.5" fill="#002a60"/>
<rect x="408.24" y="234.25" width="5.5" height="5.5" fill="#002a60"/>
<rect x="412.38" y="227.45" width="5.5" height="5.5" fill="#002a60"/>
<rect x="416.53" y="227.45" width="5.5" height="5.5" fill="#002a60"/>
<rect x="420.68" y="224.35" width="5.5" height="5.5" fill="#002a60"/>
<rect x="424.83" y="223.85" width="5.5" height="5.5" fill="#002a60"/>
<rect x="428.98" y="225.75" width="5.5" height="5.5" fill="#002a60"/>
<rect x="433.12" y="218.65" width="5.5" height="5.5" fill="#002a60"/>
<rect x="437.27" y="215.05" width="5.5" height="5.5" fill="#002a60"/>
<rect x="441.42" y="214.75" width="5.5" height="5.5" fill="#002a60"/>
<rect x="445.57" y="214.45" width="5.5" height="5.5" fill="#002a60"/>
<rect x="449.72" y="213.55" width="5.5" height="5.5" fill="#002a60"/>
<rect x="453.86" y="206.25" width="5.5" height="5.5" fill="#002a60"/>
<rect x="458.01" y="201.45" width="5.5" height="5.5" fill="#002a60"/>
<rect x="462.16" y="198.65" width="5.5" height="5.5" fill="#002a60"/>
<rect x="466.31" y="197.45" width="5.5" height="5.5" fill="#002a60"/>
<rect x="470.46" y="197.25" width="5.5" height="5.5" fill="#002a60"/>
<rect x="474.60" y="194.95" width="5.5" height="5.5" fill="#002a60"/>
<rect x="478.75" y="189.55" width="5.5" height="5.5" fill="#002a60"/>
<rect x="482.90" y="190.15" width="5.5" height="5.5" fill="#002a60"/>
<rect x="487.05" y="188.45" width="5.5" height="5.5" fill="#002a60"/>
<rect x="491.20" y="183.75" width="5.5" height="5.5" fill="#002a60"/>
<rect x="495.34" y="175.85" width="5.5" height="5.5" fill="#002a60"/>
<rect x="499.49" y="176.05" width="5.5" height="5.5" fill="#002a60"/>
<rect x="503.64" y="172.35" width="5.5" height="5.5" fill="#002a60"/>
<rect x="507.79" y="170.75" width="5.5" height="5.5" fill="#002a60"/>
<rect x="511.94" y="172.65" width="5.5" height="5.5" fill="#002a60"/>
<rect x="516.08" y="164.75" width="5.5" height="5.5" fill="#002a60"/>
<rect x="520.23" y="163.85" width="5.5" height="5.5" fill="#002a60"/>
<rect x="524.38" y="165.85" width="5.5" height="5.5" fill="#002a60"/>
<rect x="528.53" y="162.15" width="5.5" height="5.5" fill="#002a60"/>
<rect x="532.68" y="158.55" width="5.5" height="5.5" fill="#002a60"/>
<rect x="536.82" y="159.65" width="5.5" height="5.5" fill="#002a60"/>
<rect x="540.97" y="156.95" width="5.5" height="5.5" fill="#002a60"/>
<rect x="545.12" y="154.35" width="5.5" height="5.5" fill="#002a60"/>
<rect x="549.27" y="151.05" width="5.5" height="5.5" fill="#002a60"/>
<rect x="553.42" y="149.45" width="5.5" height="5.5" fill="#002a60"/>
<rect x="557.56" y="148.75" width="5.5" height="5.5" fill="#002a60"/>
<rect x="561.71" y="145.15" width="5.5" height="5.5" fill="#002a60"/>
<rect x="565.86" y="146.05" width="5.5" height="5.5" fill="#002a60"/>
<rect x="570.01" y="143.45" width="5.5" height="5.5" fill="#002a60"/>
<rect x="574.16" y="136.45" width="5.5" height="5.5" fill="#002a60"/>
<rect x="578.30" y="138.05" width="5.5" height="5.5" fill="#002a60"/>
<rect x="582.45" y="136.95" width="5.5" height="5.5" fill="#002a60"/>
<rect x="586.60" y="138.55" width="5.5" height="5.5" fill="#002a60"/>
<rect x="590.75" y="134.95" width="5.5" height="5.5" fill="#002a60"/>
<rect x="594.90" y="140.25" width="5.5" height="5.5" fill="#002a60"/>
<rect x="599.04" y="133.25" width="5.5" height="5.5" fill="#002a60"/>
<rect x="603.19" y="132.15" width="5.5" height="5.5" fill="#002a60"/>
<rect x="607.34" y="134.65" width="5.5" height="5.5" fill="#002a60"/>
<rect x="611.49" y="132.15" width="5.5" height="5.5" fill="#002a60"/>
<rect x="615.64" y="130.65" width="5.5" height="5.5" fill="#002a60"/>
<rect x="619.78" y="129.55" width="5.5" height="5.5" fill="#002a60"/>
<rect x="623.93" y="133.15" width="5.5" height="5.5" fill="#002a60"/>
<rect x="628.08" y="127.75" width="5.5" height="5.5" fill="#002a60"/>
<rect x="632.23" y="133.65" width="5.5" height="5.5" fill="#002a60"/>
<rect x="636.38" y="128.55" width="5.5" height="5.5" fill="#002a60"/>
<rect x="640.52" y="132.35" width="5.5" height="5.5" fill="#002a60"/>
<rect x="644.67" y="137.45" width="5.5" height="5.5" fill="#002a60"/>
<rect x="648.82" y="143.25" width="5.5" height="5.5" fill="#002a60"/>
<rect x="652.97" y="150.55" width="5.5" height="5.5" fill="#002a60"/>
<rect x="657.12" y="154.15" width="5.5" height="5.5" fill="#002a60"/>
<rect x="661.26" y="156.45" width="5.5" height="5.5" fill="#002a60"/>
<rect x="665.41" y="161.75" width="5.5" height="5.5" fill="#002a60"/>
<rect x="669.56" y="162.25" width="5.5" height="5.5" fill="#002a60"/>
<rect x="673.71" y="162.85" width="5.5" height="5.5" fill="#002a60"/>
<rect x="677.86" y="166.55" width="5.5" height="5.5" fill="#002a60"/>
<rect x="682.00" y="162.85" width="5.5" height="5.5" fill="#002a60"/>
<rect x="686.15" y="166.85" width="5.5" height="5.5" fill="#002a60"/>
<rect x="690.30" y="170.15" width="5.5" height="5.5" fill="#002a60"/>
<rect x="694.45" y="168.95" width="5.5" height="5.5" fill="#002a60"/>
<rect x="698.60" y="168.75" width="5.5" height="5.5" fill="#002a60"/>
<rect x="702.74" y="168.45" width="5.5" height="5.5" fill="#002a60"/>
<rect x="706.89" y="163.95" width="5.5" height="5.5" fill="#002a60"/>
<rect x="711.04" y="164.35" width="5.5" height="5.5" fill="#002a60"/>
<rect x="715.19" y="164.95" width="5.5" height="5.5" fill="#002a60"/>
<rect x="719.34" y="165.25" width="5.5" height="5.5" fill="#002a60"/>
<rect x="723.48" y="167.75" width="5.5" height="5.5" fill="#002a60"/>
<rect x="727.63" y="171.85" width="5.5" height="5.5" fill="#002a60"/>
<rect x="731.78" y="176.55" width="5.5" height="5.5" fill="#002a60"/>
<rect x="735.93" y="175.05" width="5.5" height="5.5" fill="#002a60"/>
<rect x="740.08" y="176.95" width="5.5" height="5.5" fill="#002a60"/>
<rect x="744.22" y="172.45" width="5.5" height="5.5" fill="#002a60"/>
<rect x="748.37" y="175.65" width="5.5" height="5.5" fill="#002a60"/>
<rect x="752.52" y="176.15" width="5.5" height="5.5" fill="#002a60"/>
<rect x="756.67" y="190.25" width="5.5" height="5.5" fill="#002a60"/>
<rect x="156" y="138.5" width="140" height="37" fill="#fff"/>
<rect x="170" y="139" width="44" height="37" fill="url(#cg)" mask="url(#cres)"/>
<text x="160.6" y="161.2" font-size="10.3" font-weight="bold" fill="url(#tg)" textLength="36.8" lengthAdjust="spacingAndGlyphs" stroke="#1a3a8a" stroke-width="0.4">STEEL</text>
<text x="201.6" y="161.2" font-size="10.3" font-weight="bold" fill="#2a4c9c" textLength="45" lengthAdjust="spacingAndGlyphs">MARKET</text>
<text x="250.3" y="161.2" font-size="10.3" fill="#6f8fc8" textLength="40.6" lengthAdjust="spacingAndGlyphs">UPDATE</text>
<rect x="338.6" y="434.4" width="444" height="74.2" fill="#fff" stroke="#8c8c8c" stroke-width="1.1"/>
<rect x="362.4" y="448.4" width="25.2" height="12.2" fill="#ff9900"/>
<line x1="362.4" y1="491.5" x2="387.6" y2="491.5" stroke="#000080" stroke-width="1.4"/>
<rect x="372.25" y="488.75" width="5.5" height="5.5" fill="#002a60"/>
<text x="392.6" y="460.7" font-size="18.78" fill="#000">North American Growth 12M Y/Y</text>
<text x="392.6" y="497.7" font-size="18.78" fill="#000">North America Production Rolling 12 months</text>
<text x="108.4" y="131.5" font-size="17.4" text-anchor="end" fill="#000">18,000,000</text>
<text x="837.5" y="131.6" font-size="17.5" fill="#000">60%</text>
<text x="108.4" y="212.5" font-size="17.4" text-anchor="end" fill="#000">16,000,000</text>
<text x="837.5" y="212.6" font-size="17.5" fill="#000">40%</text>
<text x="108.4" y="293.8" font-size="17.4" text-anchor="end" fill="#000">14,000,000</text>
<text x="837.5" y="293.9" font-size="17.5" fill="#000">20%</text>
<text x="108.4" y="375.0" font-size="17.4" text-anchor="end" fill="#000">12,000,000</text>
<text x="837.5" y="375.1" font-size="17.5" fill="#000">0%</text>
<text x="108.4" y="456.1" font-size="17.4" text-anchor="end" fill="#000">10,000,000</text>
<text x="837.5" y="456.2" font-size="17.5" fill="#000">-20%</text>
<text x="108.4" y="537.3" font-size="17.4" text-anchor="end" fill="#000">8,000,000</text>
<text x="837.5" y="537.4" font-size="17.5" fill="#000">-40%</text>
<text x="147.59" y="599.6" font-size="17.45" text-anchor="middle" fill="#000">2007</text>
<text x="197.36" y="599.6" font-size="17.45" text-anchor="middle" fill="#000">2008</text>
<text x="247.14" y="599.6" font-size="17.45" text-anchor="middle" fill="#000">2009</text>
<text x="296.92" y="599.6" font-size="17.45" text-anchor="middle" fill="#000">2010</text>
<text x="346.69" y="599.6" font-size="17.45" text-anchor="middle" fill="#000">2011</text>
<text x="396.47" y="599.6" font-size="17.45" text-anchor="middle" fill="#000">2012</text>
<text x="446.24" y="599.6" font-size="17.45" text-anchor="middle" fill="#000">2013</text>
<text x="496.02" y="599.6" font-size="17.45" text-anchor="middle" fill="#000">2014</text>
<text x="545.80" y="599.6" font-size="17.45" text-anchor="middle" fill="#000">2015</text>
<text x="595.57" y="599.6" font-size="17.45" text-anchor="middle" fill="#000">2016</text>
<text x="645.35" y="599.6" font-size="17.45" text-anchor="middle" fill="#000">2017</text>
<text x="695.12" y="599.6" font-size="17.45" text-anchor="middle" fill="#000">2018</text>
<text x="744.90" y="599.6" font-size="17.45" text-anchor="middle" fill="#000">2019</text>
<text x="794.68" y="599.6" font-size="17.45" text-anchor="middle" fill="#000">2020</text>
</svg></body></html>
